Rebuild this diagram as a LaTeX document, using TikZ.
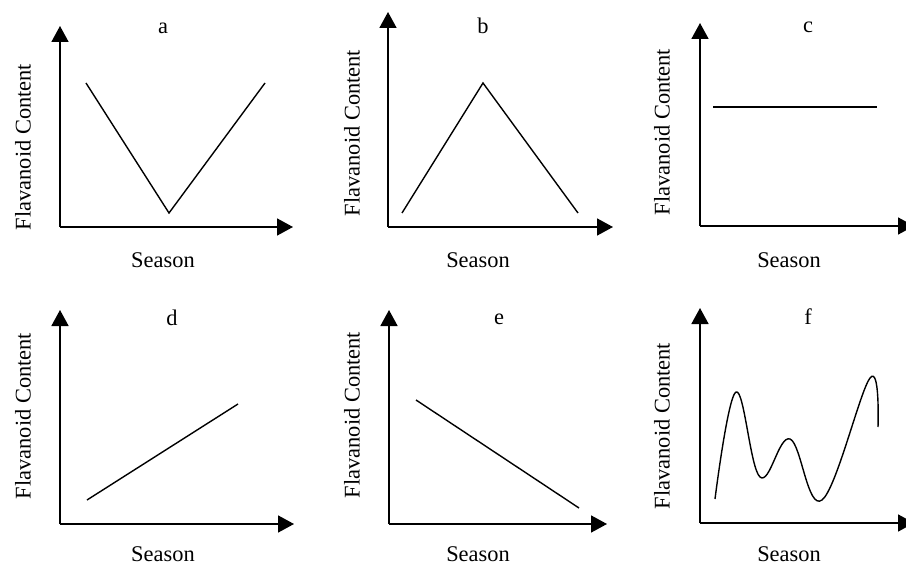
\documentclass[tikz,border=0pt]{standalone}
\usepackage{fontspec}
\setmainfont{Liberation Serif}
\usetikzlibrary{arrows.meta}
\begin{document}
\begin{tikzpicture}[x=1bp,y=-1bp,
  axis/.style={line width=1.7bp,-{Triangle[length=16bp,width=17bp]}},
  trend/.style={line width=1.4bp,line join=miter},
  lbl/.style={font=\fontsize{22.5}{27}\selectfont,inner sep=0pt},
  ylbl/.style={lbl,rotate=90}]
\useasboundingbox (0,0) rectangle (906,565);
% ---- panel a
\coordinate (ao) at (60,227); \coordinate (ay) at (60,26); \coordinate (ax) at (293,227);
\draw[axis] (ao) -- (ay); \draw[axis] (ao) -- (ax);
\coordinate (a1) at (86,83); \coordinate (a2) at (169,213); \coordinate (a3) at (265,83);
\draw[trend] (a1) -- (a2) -- (a3);
\node[lbl] (at) at (163,28) {a};
\node[lbl] (as) at (163,260) {Season};
\node[ylbl] (ayl) at (23,147) {Flavanoid Content};
% ---- panel b
\coordinate (bo) at (388,227); \coordinate (by) at (388,12); \coordinate (bx) at (613,227);
\draw[axis] (bo) -- (by); \draw[axis] (bo) -- (bx);
\coordinate (b1) at (402,213); \coordinate (b2) at (483,83); \coordinate (b3) at (578,213);
\draw[trend] (b1) -- (b2) -- (b3);
\node[lbl] (bt) at (483,26) {b};
\node[lbl] (bs) at (478,260) {Season};
\node[ylbl] (byl) at (352,133) {Flavanoid Content};
% ---- panel c
\coordinate (co) at (700,226); \coordinate (cy) at (700,23); \coordinate (cx) at (914,226);
\draw[axis] (co) -- (cy); \draw[axis] (co) -- (cx);
\coordinate (c1) at (713,107); \coordinate (c2) at (877,107);
\draw[trend] (c1) -- (c2);
\node[lbl] (ct) at (808,27) {c};
\node[lbl] (cs) at (789,260) {Season};
\node[ylbl] (cyl) at (662,132) {Flavanoid Content};
% ---- panel d
\coordinate (do) at (60,524); \coordinate (dy) at (60,310); \coordinate (dx) at (294,524);
\draw[axis] (do) -- (dy); \draw[axis] (do) -- (dx);
\coordinate (d1) at (87,500); \coordinate (d2) at (238,404);
\draw[trend] (d1) -- (d2);
\node[lbl] (dt) at (172,318) {d};
\node[lbl] (ds) at (163,554) {Season};
\node[ylbl] (dyl) at (23,416) {Flavanoid Content};
% ---- panel e
\coordinate (eo) at (389,524); \coordinate (ey) at (389,310); \coordinate (ex) at (607,524);
\draw[axis] (eo) -- (ey); \draw[axis] (eo) -- (ex);
\coordinate (e1) at (416,400); \coordinate (e2) at (579,508);
\draw[trend] (e1) -- (e2);
\node[lbl] (et) at (499,319) {e};
\node[lbl] (es) at (478,554) {Season};
\node[ylbl] (eyl) at (352,415) {Flavanoid Content};
% ---- panel f
\coordinate (fo) at (700,523); \coordinate (fy) at (700,308); \coordinate (fx) at (914,523);
\draw[axis] (fo) -- (fy); \draw[axis] (fo) -- (fx);
\draw[trend] plot[smooth,tension=0.65] coordinates
  {(715,499) (736,392) (760,477) (790,439) (822,500) (870,378) (878,427)};
\node[lbl] (ft) at (808,317) {f};
\node[lbl] (fs) at (789,554) {Season};
\node[ylbl] (fyl) at (662,426) {Flavanoid Content};
\end{tikzpicture}
\end{document}
